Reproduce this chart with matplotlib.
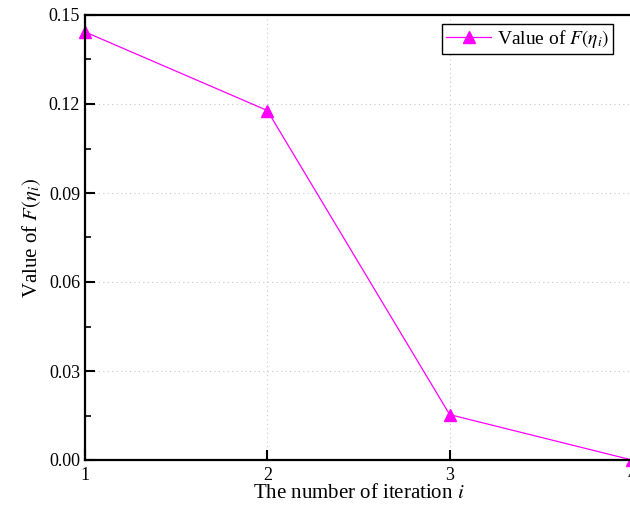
import matplotlib
matplotlib.use('Agg')
import matplotlib.pyplot as plt
from matplotlib.ticker import MultipleLocator

# 데이터
iterations = [1, 2, 3, 4]
f_values = [0.1443, 0.1178, 0.0153, 0.0]

plt.rcParams['font.family'] = ['Liberation Serif', 'DejaVu Serif']
plt.rcParams['mathtext.fontset'] = 'stix'

fig = plt.figure(figsize=(6.3, 5.09), dpi=100)
ax = fig.add_axes([85 / 630, 49 / 509, 547 / 630, 445 / 509])

ax.plot(iterations, f_values, color='magenta', lw=0.9, marker='^', markersize=8,
        label=r'Value of $F(\eta_i)$', clip_on=False)

ax.set_xlim(1, 4)
ax.set_ylim(0, 0.15)
ax.set_xticks(iterations)
ax.yaxis.set_major_locator(MultipleLocator(0.03))
ax.yaxis.set_minor_locator(MultipleLocator(0.015))
ax.set_yticklabels([f'{v:.2f}' for v in ax.get_yticks()])

ax.tick_params(axis='both', which='major', direction='in', length=7, width=1.5, labelsize=13)
ax.tick_params(axis='y', which='minor', direction='in', length=4, width=1.2)
ax.tick_params(axis='x', pad=5)
for s in ax.spines.values():
    s.set_linewidth(1.6)

ax.grid(True, linestyle=(0, (1, 3)), color='#c8c8c8', linewidth=0.8)

ax.set_xlabel(r'The number of iteration $i$', fontsize=15, labelpad=0)
ax.set_ylabel(r'Value of $F(\eta_i)$', fontsize=15, labelpad=4)

ax.legend(loc='upper right', bbox_to_anchor=(613 / 630, 1 - 24 / 509),
          bbox_transform=fig.transFigure, borderaxespad=0, fancybox=False,
          edgecolor='black', fontsize=14, handlelength=2.3, handletextpad=0.3,
          borderpad=0.2, framealpha=1)

fig.savefig('out.png', dpi=100)
